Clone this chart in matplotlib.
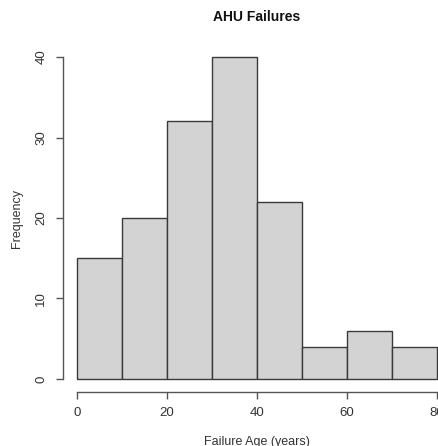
import numpy as np
import matplotlib
matplotlib.use('Agg')
from matplotlib import pyplot as plt

# histogram data (bin edges in years, counts per bin)
bin_edges = [0, 10, 20, 30, 40, 50, 60, 70, 80]
counts = [15, 20, 32, 40, 22, 4, 6, 4]
x_ticks = [0, 20, 40, 60, 80]
y_ticks = [0, 10, 20, 30, 40]

plt.rcParams['font.family'] = ['Liberation Sans', 'DejaVu Sans']

fig = plt.figure(figsize=(4.39, 4.46), dpi=100)
ax = fig.add_axes([0.1426, 0.1215, 0.8857, 0.7794])

edges = np.array(bin_edges)
ax.bar(edges[:-1], counts, width=np.diff(edges), align='edge',
       color='#d3d3d3', edgecolor='#3a3a3a', linewidth=1.0)

# R-like axes: 4% padding, detached spines
ax.set_xlim(-3.2, 83.2)
ax.set_ylim(-1.6, 41.6)
for s in ['top', 'right']:
    ax.spines[s].set_visible(False)
ax.spines['left'].set_bounds(0, 40)
ax.spines['bottom'].set_bounds(0, 80)
for s in ['left', 'bottom']:
    ax.spines[s].set_color('#555555')
    ax.spines[s].set_linewidth(1.0)

ax.set_xticks(x_ticks)
ax.set_yticks(y_ticks)
ax.set_yticklabels([str(v) for v in y_ticks], rotation=90, va='center')
ax.tick_params(axis='both', direction='out', length=5, width=1.0,
               color='#555555', labelsize=9.5, labelcolor='#333333', pad=6)

ax.set_xlabel('Failure Age (years)', fontsize=9, color='#333333', labelpad=12)
ax.set_ylabel('Frequency', fontsize=9, color='#333333', labelpad=9)
fig.text(0.584, 0.961, 'AHU Failures', ha='center', va='center',
         fontsize=10, fontweight='bold', color='#111111')

fig.savefig('out.png', dpi=100)
